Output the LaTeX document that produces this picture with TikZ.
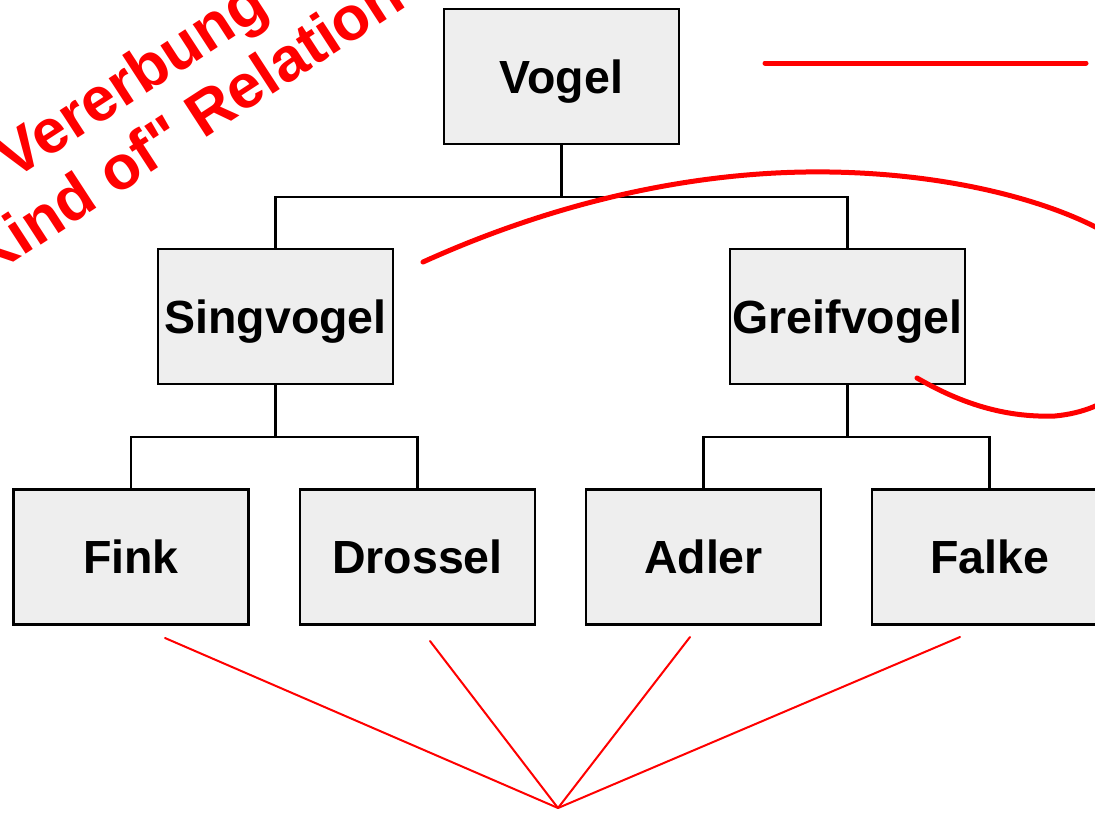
\documentclass[tikz,border=0pt]{standalone}
\usepackage{fontspec}
\setmainfont{Liberation Sans}
% plain family without TeX ligatures, so that " stays a straight quote
\newfontfamily\notefont{Liberation Sans}
\definecolor{boxgray}{HTML}{EEEEEE}
\definecolor{marker}{HTML}{FF0000}
\begin{document}
\begin{tikzpicture}[x=1pt,y=-1pt,
  bird/.style={draw=black, line width=2.6pt, fill=boxgray,
    minimum width=235pt, minimum height=135pt, inner sep=0pt,
    font=\fontsize{46.5}{55}\selectfont\bfseries,
    text height=33pt, text depth=0pt},
  link/.style={draw=black, line width=2.8pt},
  pen/.style={draw=marker, line width=5pt, line cap=round, line join=round},
  thinpen/.style={draw=marker, line width=2pt, line cap=round},
  note/.style={text=marker, inner sep=0pt, rotate=33, anchor=base west,
    font=\notefont\fontsize{62}{68}\selectfont\bfseries}]
\useasboundingbox (0,0) rectangle (1095,812);
\clip (0,0) rectangle (1095,812);

% class hierarchy
\node[bird] (vogel) at (561.5,76.5) {Vogel};
\node[bird] (sing)  at (275.5,316.5) {Singvogel};
\node[bird] (greif) at (847.5,316.5) {Greifvogel};
\node[bird] (fink)  at (131,557) {Fink};
\node[bird] (dross) at (417.5,557) {Drossel};
\node[bird] (adler) at (703.5,557) {Adler};
\node[bird] (falke) at (989.5,557) {Falke};

% tree connectors
\coordinate (bus1) at (561.5,197);
\coordinate (bus2) at (275.5,437);
\coordinate (bus3) at (847.5,437);
\draw[link] (vogel.south) -- (bus1);
\draw[link] (sing.north) |- (bus1) -| (greif.north);
\draw[link] (sing.south) -- (bus2);
\draw[link] (fink.north) |- (bus2) -| (dross.north);
\draw[link] (greif.south) -- (bus3);
\draw[link] (adler.north) |- (bus3) -| (falke.north);

% annotations
\node[note] (t1) at (13.7,180.3) {Vererbung};
\node[note] (t2) at (-15,281) {Kind of" Relation};

\coordinate (h1) at (765,63);
\coordinate (h2) at (1086,63);
\draw[pen] (h1) -- (h2);

\draw[pen] (423,262) .. controls (560,200) and (700,170) .. (830,172)
  .. controls (960,174) and (1060,205) .. (1110,235)
  .. controls (1180,280) and (1170,405) .. (1055,416)
  .. controls (1000,418) and (955,400) .. (917,378);

\coordinate (apex) at (558,808);
\coordinate (r1) at (165,638);
\coordinate (r2) at (430,641);
\coordinate (r3) at (690,637);
\coordinate (r4) at (960,637);
\foreach \p in {r1,r2,r3,r4} \draw[thinpen] (\p) -- (apex);
\end{tikzpicture}
\end{document}
